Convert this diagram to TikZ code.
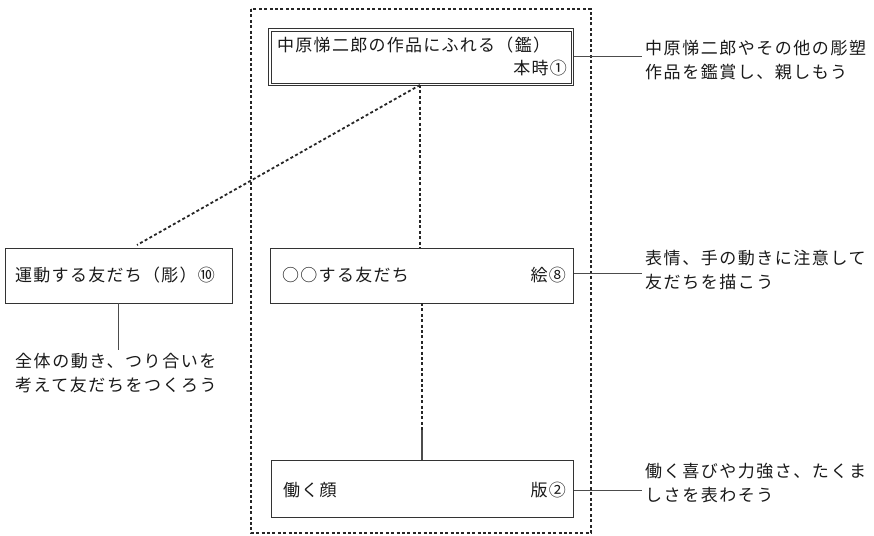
\documentclass[tikz,border=0pt]{standalone}
\usepackage{fontspec}
\setmainfont{Noto Sans CJK JP}
\newfontfamily\jp[LetterSpace=7.5]{Noto Sans CJK JP}
\newfontfamily\jpn[LetterSpace=9]{Noto Sans CJK JP}
\begin{document}
\begin{tikzpicture}[x=1pt,y=-1pt,
  every node/.style={font=\jp\fontsize{17}{20}\selectfont, inner sep=0pt, text=black!90},
  dsh/.style={draw=black!85, line width=1.8pt, dash pattern=on 3pt off 2.4pt},
  box/.style={draw=black!80, line width=1pt},
  conn/.style={draw=black!70, line width=0.9pt},
  note/.style={anchor=west, align=left, font=\jpn\fontsize{17}{24.5}\selectfont}]
\useasboundingbox (0,0) rectangle (874,535);
% outer dashed frame
\draw[dsh] (251,9) rectangle (591,533);
% top box (double border)
\node[box, minimum width=305pt, minimum height=57pt, anchor=north west] (top) at (268,28) {};
\draw[black!80, line width=0.7pt] ([shift={(3,3)}]top.north west) rectangle ([shift={(-3,-3)}]top.south east);
\node[anchor=west] (toptxt) at (277,45) {中原悌二郎の作品にふれる（鑑）};
\node[anchor=east] (topnum) at (567,68) {本時①};
% middle box
\node[box, minimum width=303pt, minimum height=55pt, anchor=north west] (mid) at (270,248) {};
\node[anchor=west] (midtxt) at (282,275) {○○する友だち};
\node[anchor=east] (midnum) at (566,275) {絵⑧};
% bottom box
\node[box, minimum width=302pt, minimum height=57pt, anchor=north west] (bot) at (271,460) {};
\node[anchor=west] (bottxt) at (283,490) {働く顔};
\node[anchor=east] (botnum) at (566,490) {版②};
% left box
\node[box, minimum width=227pt, minimum height=55pt, anchor=north west] (left) at (5,248) {};
\node[anchor=west] (lefttxt) at (15,275) {運動する友だち（彫）⑩};
% notes
\node[note] (n1) at (645,60) {中原悌二郎やその他の彫塑\\作品を鑑賞し、親しもう};
\node[note] (n2) at (645,270) {表情、手の動きに注意して\\友だちを描こう};
\node[note] (n3) at (645,483) {働く喜びや力強さ、たくま\\しさを表わそう};
\node[note] (n4) at (15,373) {全体の動き、つり合いを\\考えて友だちをつくろう};
% connectors
\coordinate (c1) at (642,56);
\coordinate (c2) at (642,273);
\coordinate (c3) at (642,490);
\draw[conn] (top.east |- c1) -- (c1);
\draw[conn] (mid.east |- c2) -- (c2);
\draw[conn] (bot.east |- c3) -- (c3);
\coordinate (tb) at (420,85);
\coordinate (lt) at (137,245);
\draw[dsh] (tb) -- (lt);
\draw[dsh] (tb) -- (420,248);
\coordinate (mb) at (422,430);
\draw[dsh] (422,303) -- (mb);
\draw[conn, line width=1.1pt] (mb) -- (422,460);
\coordinate (lb) at (118,350);
\draw[conn] (118,303) -- (lb);
\end{tikzpicture}
\end{document}
